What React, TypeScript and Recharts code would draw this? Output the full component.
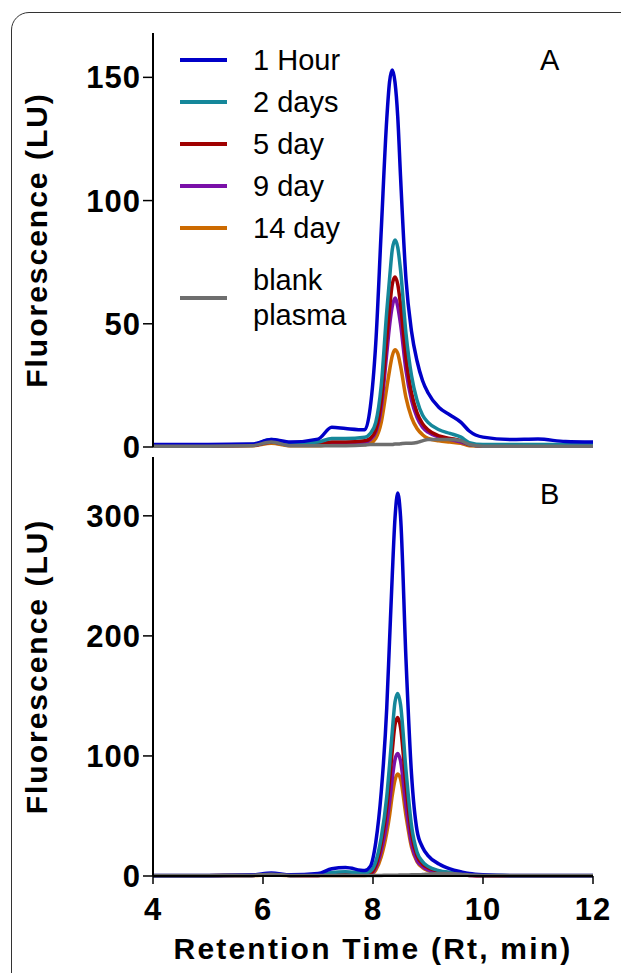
import React from "react";
import { LineChart, Line, XAxis, YAxis, Legend } from "recharts";

// Retention time grid (min)
const timeGrid = [4, 5, 5.8, 6.15, 6.5, 7.0, 7.25, 7.5, 7.85, 7.95, 8.05, 8.15, 8.25, 8.3, 8.35, 8.4, 8.45, 8.5, 8.6, 8.7, 8.8, 8.9, 9.0, 9.2, 9.4, 9.6, 9.75, 10.0, 10.5, 11.0, 11.5, 12];

// Panel A values (LU)
const hourA = [1, 1, 1.2, 3, 2, 3.2, 8, 7.5, 7, 16, 42, 88, 133, 148, 153, 148, 134, 110, 68, 47, 35, 27, 22, 16, 13, 10, 6.5, 4, 3, 3.2, 2.2, 2];
const days2A = [0.8, 0.8, 1, 3, 1.5, 2, 3.5, 3.5, 4, 5.5, 10, 25, 55, 68, 80, 84, 81, 72, 46, 29, 19, 13, 10, 7, 5.5, 4, 1.8, 1, 1, 1, 1, 1];
const day5A = [0.5, 0.5, 0.7, 2, 1, 1, 2, 2, 2.5, 3.5, 7, 19, 44, 56, 66, 69, 66, 58, 36, 22, 14, 9.5, 7, 4.5, 3.5, 2.5, 1, 0.5, 0.5, 0.5, 0.5, 0.5];
const day9A = [0.5, 0.5, 0.7, 2, 1, 1, 1.5, 1.5, 2, 3, 6, 16, 38, 49, 57, 60.5, 57, 50, 31, 19, 12, 8, 6, 4, 3, 2, 1, 0.5, 0.5, 0.5, 0.5, 0.5];
const day14A = [0.3, 0.3, 0.5, 1.5, 0.5, 0.5, 1, 1, 1, 1.5, 3.5, 10, 24, 31, 37, 39.5, 38, 33, 20, 12, 7.5, 5, 3.5, 2.5, 2, 1.5, 0.5, 0.3, 0.3, 0.3, 0.3, 0.3];
const blankA = [0.3, 0.3, 0.5, 2, 0.5, 0.5, 0.5, 0.5, 0.8, 1, 1, 1, 1, 1, 1, 1.2, 1.2, 1.3, 1.5, 1.5, 1.8, 2.5, 3, 3, 3, 2.5, 1, 0.3, 0.3, 0.3, 0.3, 0.3];

// Panel B values (LU)
const hourB = [0.5, 0.5, 0.8, 2.5, 1, 2, 6, 7, 4.5, 8, 28, 70, 140, 195, 250, 298, 319, 300, 180, 85, 38, 24, 17, 10, 6, 3.5, 2, 1, 0.5, 0.5, 0.5, 0.5];
const days2B = [0.3, 0.3, 0.5, 1.5, 0.5, 1, 3, 3.5, 2.5, 4, 12, 32, 66, 92, 120, 145, 152, 143, 88, 42, 20, 12, 8, 4.5, 3, 2, 1, 0.5, 0.3, 0.3, 0.3, 0.3];
const day5B = [0.3, 0.3, 0.5, 1, 0.5, 0.5, 1, 1, 1, 2, 9, 27, 57, 79, 104, 126, 132, 124, 75, 35, 17, 10, 7, 4, 2.5, 1.5, 0.8, 0.3, 0.3, 0.3, 0.3, 0.3];
const day9B = [0.3, 0.3, 0.5, 1, 0.5, 0.5, 1, 1, 1, 1.5, 7, 21, 44, 61, 81, 97, 102, 96, 58, 27, 13, 8, 5, 3, 2, 1, 0.5, 0.3, 0.3, 0.3, 0.3, 0.3];
const day14B = [0.3, 0.3, 0.4, 1, 0.4, 0.4, 0.5, 0.5, 0.5, 1, 5, 16, 36, 50, 67, 80, 85, 81, 50, 24, 12, 7, 4.5, 2.5, 1.5, 1, 0.5, 0.3, 0.3, 0.3, 0.3, 0.3];
const blankB = [0.5, 0.5, 0.5, 1.5, 0.5, 0.5, 0.5, 0.5, 0.5, 0.5, 0.5, 0.5, 0.6, 0.6, 0.6, 0.7, 0.7, 0.8, 0.8, 1, 1, 1.2, 1.5, 2, 2, 1.5, 0.8, 0.5, 0.5, 0.5, 0.5, 0.5];

const seriesNames = ["1 Hour", "2 days", "5 day", "9 day", "14 day", "blank plasma"];
const seriesKeys = ["h1", "d2", "d5", "d9", "d14", "blank"];
const seriesColors = ["#0000C8", "#15879A", "#A00000", "#7A10A8", "#CC6A00", "#6E6E6E"];

const xTicks = [4, 6, 8, 10, 12];
const yTicksA = [0, 50, 100, 150];
const yTicksB = [0, 100, 200, 300];

const buildRows = (cols: number[][]) =>
  timeGrid.map((t, i) => {
    const row: Record<string, number> = { t };
    seriesKeys.forEach((k, j) => {
      row[k] = cols[j][i];
    });
    return row;
  });

const dataA = buildRows([hourA, days2A, day5A, day9A, day14A, blankA]);
const dataB = buildRows([hourB, days2B, day5B, day9B, day14B, blankB]);

const FONT = "'Liberation Sans', Arial, Helvetica, sans-serif";
const drawOrder = [4, 3, 2, 1, 0, 5];

const tickStyle = { fontFamily: FONT, fontSize: 31, fontWeight: 700, fill: "#000", letterSpacing: 1 };

const LegendBox = () => (
  <div style={{ fontFamily: FONT, fontSize: 29, color: "#000" }}>
    {seriesNames.map((name, i) => {
      const isBlank = i === 5;
      return (
        <div
          key={name}
          style={{
            display: "flex",
            alignItems: "center",
            height: isBlank ? 70 : 42,
            marginTop: isBlank ? 14 : 0,
          }}
        >
          <svg width={47} height={6} style={{ marginRight: 26, flex: "none" }}>
            <line x1={0} y1={3} x2={47} y2={3} stroke={seriesColors[i]} strokeWidth={4} />
          </svg>
          <div style={{ lineHeight: "35px", whiteSpace: "nowrap" }}>
            {isBlank ? (
              <>
                blank
                <br />
                plasma
              </>
            ) : (
              name
            )}
          </div>
        </div>
      );
    })}
  </div>
);

const yLabel = (
  {
    value: "Fluorescence (LU)",
    angle: -90,
    position: "insideLeft",
    offset: 36,
    style: { fontFamily: FONT, fontSize: 30, fontWeight: 700, fill: "#000", letterSpacing: 2, textAnchor: "middle" },
  } as any
);

export default function App() {
  return (
    <div style={{ position: "absolute", left: 0, top: 0, width: 621, height: 973, background: "#fff", overflow: "hidden" }}>
      <div
        style={{
          position: "absolute",
          left: 11,
          top: 12,
          width: 660,
          height: 1020,
          border: "1.5px solid #333",
          borderRadius: 18,
          boxSizing: "border-box",
        }}
      />
      {/* Panel B */}
      <div style={{ position: "absolute", left: 0, top: 440 }}>
        <LineChart width={621} height={533} data={dataB} margin={{ top: 17, right: 28, bottom: 0, left: 0 }}>
          <XAxis
            dataKey="t"
            type="number"
            domain={[4, 12]}
            ticks={xTicks}
            interval={0}
            height={97}
            tickSize={8}
            tickMargin={14}
            tick={tickStyle}
            tickLine={{ stroke: "#000", strokeWidth: 1.5 }}
            axisLine={{ stroke: "#000", strokeWidth: 2 }}
            label={{
              value: "Retention Time (Rt, min)",
              position: "insideBottom",
              offset: 14,
              style: { fontFamily: FONT, fontSize: 30, fontWeight: 700, fill: "#000", letterSpacing: 2.2 },
            } as any}
          />
          <XAxis xAxisId="top" orientation="top" dataKey="t" type="number" domain={[4, 12]} height={0} tick={false} tickLine={false} axisLine={{ stroke: "#000", strokeWidth: 2 }} />
          <YAxis
            type="number"
            domain={[0, 349]}
            ticks={yTicksB}
            interval={0}
            width={153}
            tickSize={10}
            tickMargin={2}
            tick={tickStyle}
            tickLine={{ stroke: "#000", strokeWidth: 1.5 }}
            axisLine={{ stroke: "#000", strokeWidth: 2 }}
            label={yLabel}
          />
          <YAxis yAxisId="right" orientation="right" width={0} tick={false} tickLine={false} axisLine={{ stroke: "#000", strokeWidth: 2 }} />
          {drawOrder.map((i) => (
            <Line
              key={seriesKeys[i]}
              type="monotone"
              dataKey={seriesKeys[i]}
              name={seriesNames[i]}
              stroke={seriesColors[i]}
              strokeWidth={3.5}
              dot={false}
              isAnimationActive={false}
            />
          ))}
        </LineChart>
      </div>
      <div style={{ position: "absolute", left: 540, top: 478, fontFamily: FONT, fontSize: 29, color: "#000" }}>B</div>

      {/* Panel A (drawn after B so its bottom tick label is not covered) */}
      <div style={{ position: "absolute", left: 0, top: 0, pointerEvents: "none" }}>
        <LineChart width={621} height={466} data={dataA} margin={{ top: 33, right: 28, bottom: 19, left: 0 }}>
          <XAxis dataKey="t" type="number" domain={[4, 12]} ticks={xTicks} height={0} tick={false} tickLine={false} axisLine={{ stroke: "#000", strokeWidth: 2 }} />
          <XAxis xAxisId="top" orientation="top" dataKey="t" type="number" domain={[4, 12]} height={0} tick={false} tickLine={false} axisLine={{ stroke: "#000", strokeWidth: 2 }} />
          <YAxis
            type="number"
            domain={[0, 168]}
            ticks={yTicksA}
            interval={0}
            width={153}
            tickSize={10}
            tickMargin={2}
            tick={tickStyle}
            tickLine={{ stroke: "#000", strokeWidth: 1.5 }}
            axisLine={{ stroke: "#000", strokeWidth: 2 }}
            label={yLabel}
          />
          <YAxis yAxisId="right" orientation="right" width={0} tick={false} tickLine={false} axisLine={{ stroke: "#000", strokeWidth: 2 }} />
          <Legend
            verticalAlign="middle"
            align="center"
            layout="horizontal"
            content={() => <LegendBox />}
            wrapperStyle={{ position: "absolute", left: 180, top: 39, width: 220, height: 310 }}
          />
          {drawOrder.map((i) => (
            <Line
              key={seriesKeys[i]}
              type="monotone"
              dataKey={seriesKeys[i]}
              name={seriesNames[i]}
              stroke={seriesColors[i]}
              strokeWidth={3.5}
              dot={false}
              isAnimationActive={false}
            />
          ))}
        </LineChart>
      </div>
      <div style={{ position: "absolute", left: 540, top: 44, fontFamily: FONT, fontSize: 29, color: "#000" }}>A</div>
    </div>
  );
}
